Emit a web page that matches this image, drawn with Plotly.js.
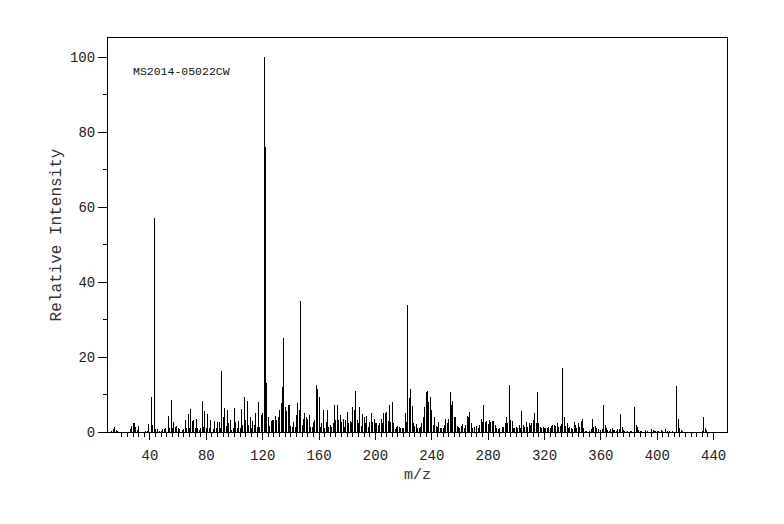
<!DOCTYPE html>
<html>
<head>
<meta charset="utf-8">
<script src="https://cdn.plot.ly/plotly-3.0.1.min.js"></script>
<style>
  html, body { margin: 0; padding: 0; background: #fff; }
  #chart { width: 784px; height: 524px; }
</style>
</head>
<body>
<div id="chart"></div>
<script>
// m/z values and relative intensities
const mz = [
  13,14,15,16,17,18,26,27,28,29,30,31,32,37,38,39,40,41,42,43,44,45,47,48,49,50,51,53,54,55,
  56,57,58,59,60,61,62,63,64,65,66,67,68,69,70,71,72,73,74,75,76,77,78,79,80,81,82,83,84,85,
  86,87,88,89,90,91,92,93,94,95,96,97,98,99,100,101,102,103,104,105,106,107,108,109,110,111,112,113,114,115,
  116,117,118,119,120,121,122,123,124,125,126,127,128,129,130,131,132,133,134,135,136,137,138,139,140,141,142,143,144,145,
  146,147,148,149,150,151,152,153,154,155,156,157,158,159,160,161,162,163,164,165,166,167,168,169,170,171,172,173,174,175,
  176,177,178,179,180,181,182,183,184,185,186,187,188,189,190,191,192,193,194,195,196,197,198,199,200,201,202,203,204,205,
  206,207,208,209,210,211,212,213,214,215,216,217,218,219,220,221,222,223,224,225,226,227,228,229,230,231,232,233,234,235,
  236,237,238,239,240,241,242,243,244,245,246,247,248,249,250,251,252,253,254,255,256,257,258,259,260,261,262,263,264,265,
  266,267,268,269,270,272,273,274,275,276,277,278,279,280,281,282,283,284,285,286,287,288,290,291,292,293,294,295,296,297,
  298,299,300,301,302,303,304,305,306,307,308,309,310,311,312,313,314,315,316,317,318,319,320,321,322,323,324,325,326,327,
  328,329,330,331,332,333,334,335,336,337,338,339,340,341,342,343,344,345,346,347,348,349,350,352,353,354,355,356,357,358,
  360,361,362,363,364,365,366,367,368,369,370,371,372,373,374,375,376,377,379,381,382,384,385,386,387,388,389,392,393,396,
  397,398,399,400,401,403,404,406,407,409,411,414,415,416,417,418,432,433,434,435
];
const intensity = [
  0.3,0.8,1.3,0.5,0.4,1.6,0.8,1.6,2.4,2.4,1.4,0.6,1.6,0.3,0.4,2.1,0.3,9.3,1.9,57,0.8,0.9,0.4,0.4,0.7,0.7,1.0,4.3,1.0,8.6,
  1.0,2.7,1.4,1.6,1.2,0.7,0.7,0.5,0.9,3.1,1.0,4.8,1.2,6.2,2.9,3.3,1.0,3.5,1.0,0.5,1.2,8.3,1.4,5.6,1.0,4.8,1.0,3.2,1.4,0.8,
  3.0,1.2,2.7,2.7,1.0,16.3,4.1,6.3,1.6,6.0,2.3,3.2,0.5,1.0,6.3,2.8,1.0,3.0,1.0,6.2,1.9,9.4,3.2,8.4,1.9,4.1,1.0,2.9,1.9,5.0,
  1.4,8.0,1.4,4.6,5.0,100,76,13,4.1,1.6,3.0,3.2,3.2,4.3,3.2,4.0,5.9,7.8,11.9,25,6.8,5.7,7.2,7.2,1.6,1.4,2.7,1.4,4.5,7.8,
  5.9,35,1.9,3.4,5.0,4.1,3.4,4.5,1.4,1.4,2.8,3.2,12.5,11.4,9.4,1.4,2.3,6.0,1.0,2.8,5.9,1.4,1.9,1.4,2.5,7.2,3.2,7.2,3.2,4.5,
  2.8,3.6,1.4,3.2,5.4,2.3,2.9,2.8,6.6,5.9,10.9,3.2,2.3,6.6,1.6,4.8,4.1,2.3,4.3,1.4,2.8,5.0,2.8,3.6,2.3,2.5,1.9,2.5,3.6,2.3,
  5.0,5.2,5.4,2.9,7.2,2.8,8.0,2.3,0.8,1.4,1.6,1.4,1.2,1.0,1.2,5.2,2.8,34,9.0,11.6,6.9,2.3,1.6,2.1,1.0,1.0,1.4,2.3,3.9,6.8,
  10.8,11.0,8.0,9.4,5.9,1.9,4.1,1.6,1.4,2.8,1.0,1.2,1.0,1.9,3.4,2.3,3.4,10.6,7.2,8.4,3.9,4.1,1.6,1.4,1.2,1.6,2.1,1.2,1.8,4.2,
  3.9,5.3,2.5,1.2,1.4,1.6,1.0,1.9,3.6,2.8,7.2,2.8,2.9,2.1,3.2,2.8,2.9,2.9,1.9,1.0,0.7,1.0,1.4,1.4,2.3,3.9,2.3,12.5,3.2,2.9,
  1.0,1.0,1.4,1.0,1.9,1.0,5.6,1.9,1.4,2.8,1.4,2.3,1.9,2.3,3.2,5.2,2.3,10.7,2.3,1.4,1.0,1.4,1.0,1.0,1.0,1.4,1.0,1.6,2.0,1.9,
  1.6,2.3,1.4,1.6,2.1,17,3.9,1.6,2.3,1.0,1.4,1.0,0.7,2.8,2.0,1.0,2.3,1.4,2.9,3.4,1.0,0.4,0.4,0.4,0.7,3.6,1.4,1.6,1.0,0.7,
  0.5,0.7,7.2,1.9,1.2,0.5,0.4,0.7,1.0,0.5,0.5,0.4,0.7,0.7,4.8,1.4,0.5,0.4,0.4,0.4,0.4,6.8,1.8,1.4,0.5,0.4,0.3,0.5,0.4,0.7,
  0.5,0.4,0.4,0.4,0.4,0.5,0.4,0.7,0.4,0.3,0.3,12.3,3.4,1.0,0.5,0.4,0.4,4.1,1.2,0.5
];

const xTickVals = [40, 80, 120, 160, 200, 240, 280, 320, 360, 400, 440];
const xTickText = ["40", "80", "120", "160", "200", "240", "280", "320", "360", "400", "440"];
const yTickVals = [0, 20, 40, 60, 80, 100];
const yTickText = ["0", "20", "40", "60", "80", "100"];
const sampleLabel = "MS2014-05022CW";

// minor tick positions (every 4 on x between 20 and 436, every 10 on y)
const xMinor = [];
for (let v = 20; v <= 436; v += 4) { if (v % 40 !== 0) xMinor.push(v); }
const yMinor = [10, 30, 50, 70, 90];

const FONT = '"Courier New", "Liberation Mono", monospace';

const trace = {
  type: 'bar',
  x: mz,
  y: intensity,
  width: 0.7,
  marker: { color: '#000000', line: { width: 0 } },
  hoverinfo: 'x+y'
};

const layout = {
  width: 784,
  height: 524,
  margin: { l: 108, r: 57, t: 38, b: 92 },
  paper_bgcolor: '#ffffff',
  plot_bgcolor: '#ffffff',
  showlegend: false,
  bargap: 0,
  font: { family: FONT, size: 14, color: '#222222' },
  xaxis: {
    range: [10.2, 449.5],
    tickmode: 'array',
    tickvals: xTickVals,
    ticktext: xTickText,
    ticks: 'outside',
    ticklen: 7,
    tickwidth: 1,
    tickcolor: '#000',
    ticklabelstandoff: 3,
    minor: { tickmode: 'array', tickvals: xMinor, ticks: 'outside', ticklen: 4, tickwidth: 1, tickcolor: '#000', showgrid: false },
    showgrid: false,
    zeroline: false,
    showline: true,
    linecolor: '#000',
    linewidth: 1,
    mirror: true,
    tickfont: { family: FONT, size: 14, color: '#222222' },
    title: { text: 'm/z', font: { family: FONT, size: 15, color: '#333333' }, standoff: 5 }
  },
  yaxis: {
    range: [0, 105.1],
    tickmode: 'array',
    tickvals: yTickVals,
    ticktext: yTickText,
    ticks: 'outside',
    ticklen: 9,
    tickwidth: 1,
    tickcolor: '#000',
    minor: { tickmode: 'array', tickvals: yMinor, ticks: 'outside', ticklen: 4, tickwidth: 1, tickcolor: '#000', showgrid: false },
    showgrid: false,
    zeroline: false,
    showline: true,
    linecolor: '#000',
    linewidth: 1,
    mirror: true,
    tickfont: { family: FONT, size: 14, color: '#222222' },
    title: { text: 'Relative Intensity', font: { family: FONT, size: 16, color: '#333333' }, standoff: 4 }
  },
  annotations: [{
    text: sampleLabel,
    xref: 'paper', yref: 'paper',
    x: 0.037, y: 0.916,
    xanchor: 'left', yanchor: 'middle',
    showarrow: false,
    font: { family: FONT, size: 11.5, color: '#111111' }
  }]
};

Plotly.newPlot('chart', [trace], layout, { staticPlot: true, displayModeBar: false });
</script>
</body>
</html>
